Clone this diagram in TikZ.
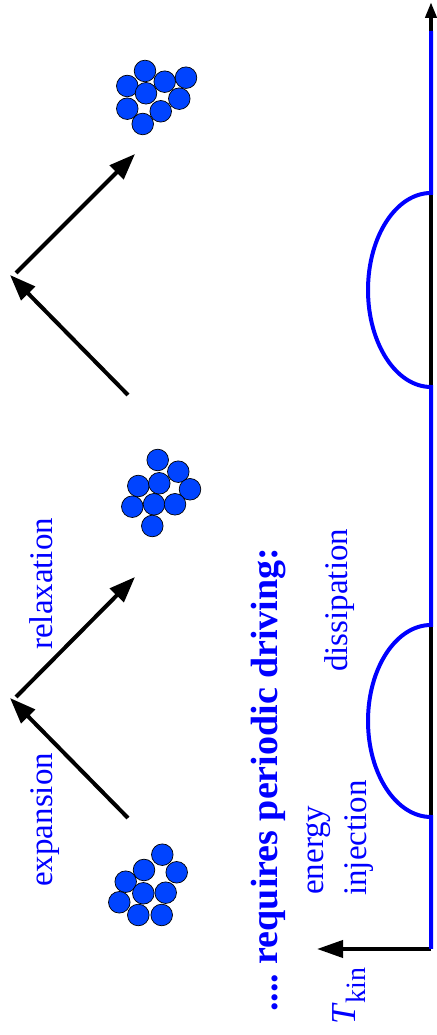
\documentclass[tikz,border=0pt]{standalone}
\usepackage{fontspec}
\setmainfont{Liberation Serif}
\usetikzlibrary{arrows.meta}

\definecolor{txtblue}{RGB}{0,0,255}
\definecolor{ballblue}{RGB}{0,68,255}

\tikzset{
  bigarrow/.style={line width=4pt, -{Triangle[length=26pt,width=19pt]}},
  axisline/.style={line width=4pt},
  curve/.style={draw=txtblue, line width=4pt},
  ball/.style={circle, fill=ballblue, draw=black, line width=0.7pt,
               minimum size=21.6pt, inner sep=0pt},
  lbl/.style={text=txtblue, rotate=90, anchor=base west, inner sep=0pt,
              font=\fontsize{33}{40}\selectfont},
}

\begin{document}
\begin{tikzpicture}[x=1pt,y=1pt]
\useasboundingbox (0,0) rectangle (436,1035);

% kinetic-temperature axis
\coordinate (corner) at (431,86);
\coordinate (ytip) at (431,1033);
\coordinate (xtip) at (317,86);
\draw[axisline, -{Triangle[length=16pt,width=11pt]}] (corner) -- (ytip);
\draw[axisline, -{Triangle[length=26pt,width=17pt]}] (corner) -- (xtip);

% temperature course with two driving pulses
\coordinate (c0) at (431,1004);
\coordinate (c1) at (431,842);
\coordinate (c2) at (431,648);
\coordinate (c3) at (431,410);
\coordinate (c4) at (431,218);
\draw[curve] (c0) -- (c1)
  arc[start angle=90, end angle=270, x radius=63, y radius=97] -- (c3)
  arc[start angle=90, end angle=270, x radius=63, y radius=96] -- (corner);

% expansion / relaxation cycles
\coordinate (a1s) at (128,217);
\coordinate (a1m) at (10,337);
\coordinate (a1n) at (16,338);
\coordinate (a1e) at (135,458);
\draw[bigarrow] (a1s) -- (a1m);
\draw[bigarrow] (a1n) -- (a1e);

\coordinate (a2s) at (128,640);
\coordinate (a2m) at (10,760);
\coordinate (a2n) at (16,762);
\coordinate (a2e) at (135,881);
\draw[bigarrow] (a2s) -- (a2m);
\draw[bigarrow] (a2n) -- (a2e);

% clusters
\foreach \x/\y [count=\i] in {162.3/180.3, 176.7/162.7, 144/165, 125.7/153.3,
    143.3/141.7, 165.7/142.3, 119.3/132.7, 138.3/120, 161.7/120}
  \node[ball] (p\i) at (\x,\y) {};
\foreach \x/\y [count=\i] in {157.7/575, 178.3/563.3, 138.3/549, 159.3/551.7,
    190/545.7, 132.3/528.3, 154/530.7, 175/530.7, 152.3/509}
  \node[ball] (q\i) at (\x,\y) {};
\foreach \x/\y [count=\i] in {145/964, 127.3/949, 164.7/953.3, 186/957.3,
    146/941.7, 179.3/936.3, 127.3/926.3, 160.7/923.7, 142.7/911}
  \node[ball] (r\i) at (\x,\y) {};

% labels
\node[lbl] (expansion) at (52,148) {expansion};
\node[lbl] (relaxation) at (52,385) {relaxation};
\node[lbl] (energy) at (323,140) {energy};
\node[lbl] (injection) at (366,139) {injection};
\node[lbl] (dissipation) at (347,363) {dissipation};
\node[lbl, font=\fontsize{38}{44}\selectfont\bfseries] (driving) at (277,23)
  {....~requires periodic driving:};
\node[lbl, font=\fontsize{35}{40}\selectfont] (tkin) at (355,10)
  {\textit{T}\raisebox{-10pt}{\fontsize{28}{30}\selectfont kin}};
\end{tikzpicture}
\end{document}
